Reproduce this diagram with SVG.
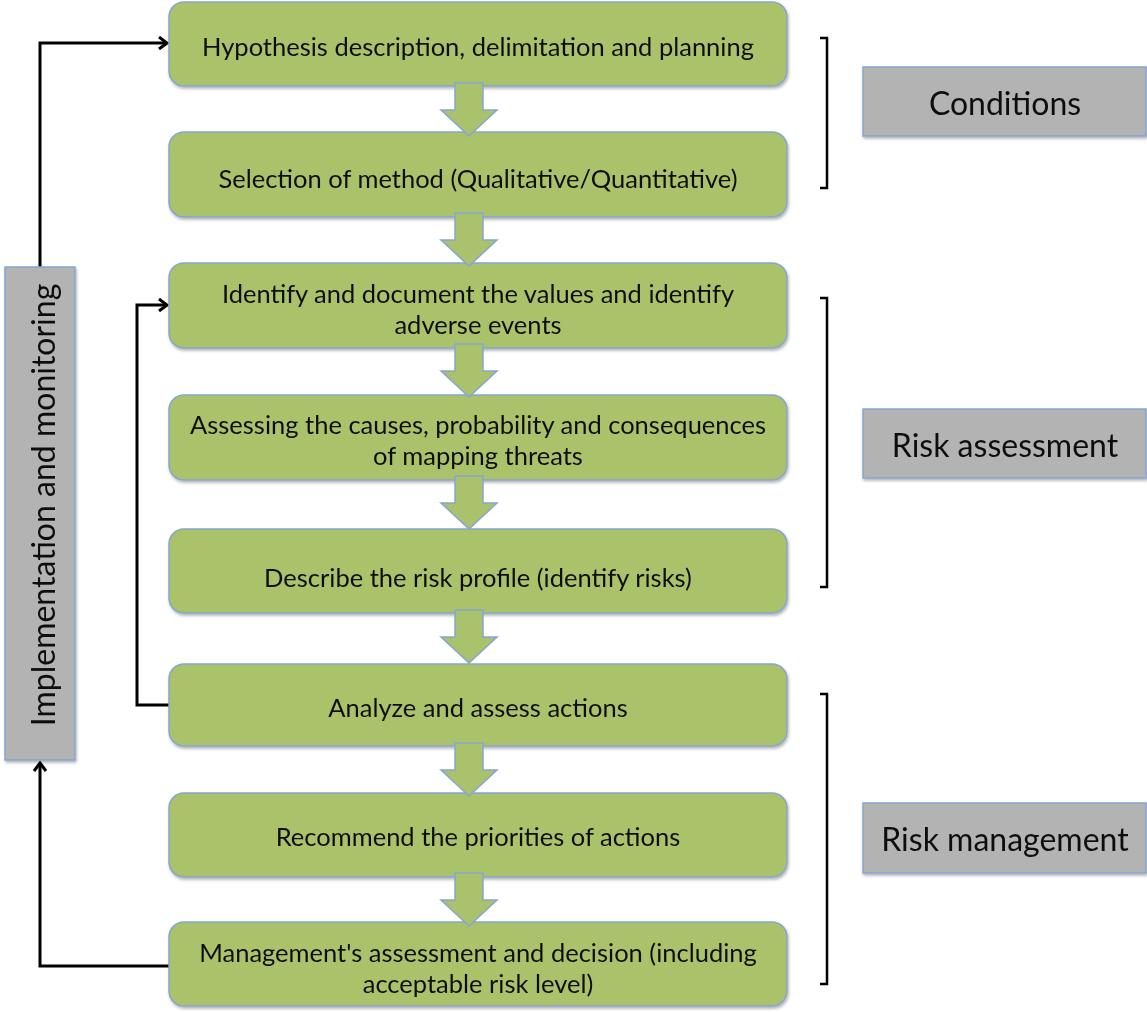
<svg xmlns="http://www.w3.org/2000/svg" width="1147" height="1012" viewBox="0 0 1147 1012">
  <defs>
    <style>
      .step { fill: #aac26b; stroke: #86a6cf; stroke-width: 1.5; }
      .tag { fill: #b3b3b3; stroke: #86a6cf; stroke-width: 1.5; }
      .flow { fill: #aac26b; stroke: #86a6cf; stroke-width: 1.5; }
      .txt { font-family: Lato, "Liberation Sans", sans-serif; font-size: 25.5px; fill: #111; text-anchor: middle; dominant-baseline: central; }
      .big { font-family: Lato, "Liberation Sans", sans-serif; font-size: 32px; fill: #111; text-anchor: middle; dominant-baseline: central; }
      .wire { fill: none; stroke: #000; stroke-width: 3; stroke-linejoin: miter; }
      .brace { fill: none; stroke: #000; stroke-width: 2.5; }
    </style>
    <filter id="shadow" x="-5%" y="-10%" width="110%" height="130%">
      <feDropShadow dx="1" dy="2" stdDeviation="1.5" flood-color="#000" flood-opacity="0.3"/>
    </filter>
    <marker id="open" markerWidth="12" markerHeight="14" refX="10" refY="7" orient="auto" markerUnits="userSpaceOnUse">
      <polyline points="2,1 10,7 2,13" fill="none" stroke="#000" stroke-width="3"/>
    </marker>
    <path id="down" d="M-14,0 H14 V27 H28 L0,53 L-28,27 H-14 Z"/>
  </defs>

  <!-- feedback loops -->
  <g id="connectors">
    <path class="wire" d="M40,267 V43 H167" marker-end="url(#open)"/>
    <path class="wire" d="M169,705 H137 V305 H167" marker-end="url(#open)"/>
    <path class="wire" d="M169,966 H40 V763" marker-end="url(#open)"/>
  </g>

  <!-- process steps -->
  <g id="step1" filter="url(#shadow)">
    <rect class="step" x="169" y="2" width="618" height="84" rx="15"/>
    <text class="txt" x="478" y="46">Hypothesis description, delimitation and planning</text>
  </g>
  <g id="step2" filter="url(#shadow)">
    <rect class="step" x="169" y="132" width="618" height="85" rx="15"/>
    <text class="txt" x="478" y="178">Selection of method (Qualitative/Quantitative)</text>
  </g>
  <g id="step3" filter="url(#shadow)">
    <rect class="step" x="169" y="263" width="618" height="85" rx="15"/>
    <text class="txt" x="478" y="293">Identify and document the values and identify</text>
    <text class="txt" x="478" y="324">adverse events</text>
  </g>
  <g id="step4" filter="url(#shadow)">
    <rect class="step" x="169" y="395" width="618" height="85" rx="15"/>
    <text class="txt" x="478" y="424">Assessing the causes, probability and consequences</text>
    <text class="txt" x="478" y="455">of mapping threats</text>
  </g>
  <g id="step5" filter="url(#shadow)">
    <rect class="step" x="169" y="529" width="618" height="84" rx="15"/>
    <text class="txt" x="478" y="577">Describe the risk profile (identify risks)</text>
  </g>
  <g id="step6" filter="url(#shadow)">
    <rect class="step" x="169" y="664" width="618" height="82" rx="15"/>
    <text class="txt" x="478" y="707">Analyze and assess actions</text>
  </g>
  <g id="step7" filter="url(#shadow)">
    <rect class="step" x="169" y="793" width="618" height="84" rx="15"/>
    <text class="txt" x="478" y="836">Recommend the priorities of actions</text>
  </g>
  <g id="step8" filter="url(#shadow)">
    <rect class="step" x="169" y="922" width="618" height="84" rx="15"/>
    <text class="txt" x="478" y="952">Management's assessment and decision (including</text>
    <text class="txt" x="478" y="983">acceptable risk level)</text>
  </g>

  <!-- block arrows between steps -->
  <g id="flow-arrows">
    <use href="#down" class="flow" x="469" y="83"/>
    <use href="#down" class="flow" x="469" y="213"/>
    <use href="#down" class="flow" x="469" y="344"/>
    <use href="#down" class="flow" x="469" y="476"/>
    <use href="#down" class="flow" x="469" y="610"/>
    <use href="#down" class="flow" x="469" y="743"/>
    <use href="#down" class="flow" x="469" y="873"/>
  </g>

  <!-- side panel -->
  <g id="monitoring" filter="url(#shadow)">
    <rect class="tag" x="5" y="267" width="70" height="493"/>
    <text class="big" transform="translate(42,505) rotate(-90)">Implementation and monitoring</text>
  </g>

  <!-- phase brackets -->
  <g id="brackets">
    <path class="brace" d="M820,38 H827 V188 H820"/>
    <path class="brace" d="M820,298 H827 V587 H820"/>
    <path class="brace" d="M820,694 H827 V984 H820"/>
  </g>

  <!-- phase labels -->
  <g id="conditions" filter="url(#shadow)">
    <rect class="tag" x="863" y="67" width="283" height="69"/>
    <text class="big" x="1005" y="102">Conditions</text>
  </g>
  <g id="risk-assessment" filter="url(#shadow)">
    <rect class="tag" x="863" y="409" width="283" height="69"/>
    <text class="big" x="1005" y="444">Risk assessment</text>
  </g>
  <g id="risk-management" filter="url(#shadow)">
    <rect class="tag" x="863" y="803" width="283" height="70"/>
    <text class="big" x="1005" y="838">Risk management</text>
  </g>
</svg>
